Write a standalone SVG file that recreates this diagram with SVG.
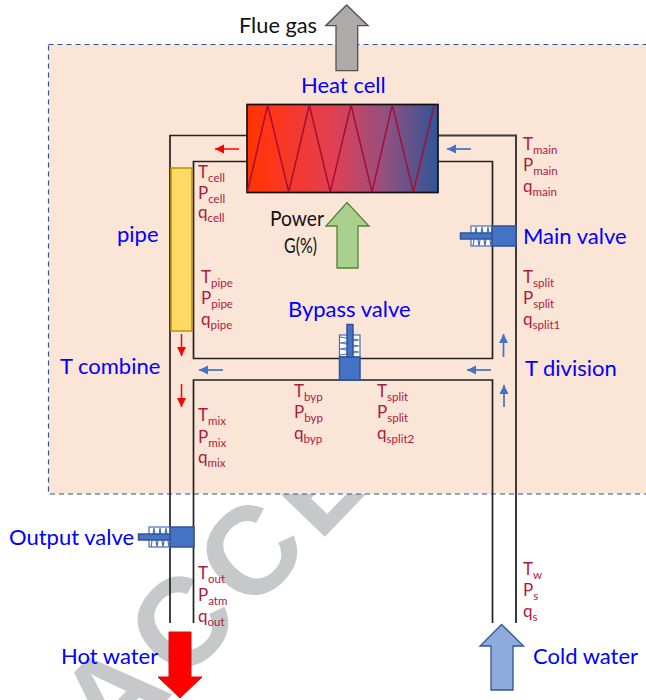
<svg xmlns="http://www.w3.org/2000/svg" width="646" height="700" viewBox="0 0 646 700">
<style>
text{font-family:"Lato","Open Sans","Liberation Sans",sans-serif}
.b{font-size:22px;fill:#0000ff}
.k{font-size:21px;fill:#111}
.r{font-size:17px;fill:#ab1a3f}
.r tspan{font-size:11.500px}
.p{fill:none;stroke:#222;stroke-width:1.700}
.vb{fill:#4472c4;stroke:#2f5597;stroke-width:1.500}
.vs{fill:#fff;stroke:#4a6fb5;stroke-width:1.200}
.vz{fill:none;stroke:#4a6fb5;stroke-width:1.200}
.ar{fill:none;stroke:#ff0000;stroke-width:1.500}
.ab{fill:none;stroke:#4472c4;stroke-width:1.700}
</style>
<defs>
<marker id="mr" markerUnits="userSpaceOnUse" markerWidth="10" markerHeight="10" refX="9" refY="5" orient="auto"><path d="M0 .5L9 5L0 9.500z" fill="#ff0000"/></marker>
<marker id="mb" markerUnits="userSpaceOnUse" markerWidth="10" markerHeight="10" refX="9" refY="5" orient="auto"><path d="M0 .5L9 5L0 9.500z" fill="#4472c4"/></marker>
<linearGradient id="hc" x1="0" y1="0" x2="1" y2="0"><stop offset="0" stop-color="#ff3300"/><stop offset=".12" stop-color="#ff3516"/><stop offset=".45" stop-color="#e23f54"/><stop offset=".72" stop-color="#94507f"/><stop offset="1" stop-color="#2f5597"/></linearGradient>
</defs>
<text transform="translate(112 757) rotate(-46)" font-size="125" font-weight="700" letter-spacing="9" style="font-family:'Liberation Sans',sans-serif;fill:#c7c8ca">ACCE</text>
<rect id="panel" x="48.500" y="44.500" width="620" height="449.500" fill="#fbe5d6" stroke="#2f5597" stroke-width="1.200" stroke-dasharray="5 4"/>
<g id="connectors">
<path class="p" d="M247 135.500H170V623"/>
<path class="p" d="M247 161.500H193.500V358.500H492.500V161.500H437"/>
<path class="p" d="M193.500 623V380H492.500V623"/>
<path class="p" style="stroke:#3a3a3a;stroke-width:2" d="M437 135.500H516V623"/>
<path class="ar" marker-end="url(#mr)" d="M239 149H215"/>
<path class="ab" marker-end="url(#mb)" d="M471 149H447"/>
<path class="ar" marker-end="url(#mr)" d="M181.500 334V356"/>
<path class="ar" marker-end="url(#mr)" d="M181.500 384V407"/>
<path class="ab" marker-end="url(#mb)" d="M223 370H199"/>
<path class="ab" marker-end="url(#mb)" d="M491 370H467"/>
<path class="ab" marker-end="url(#mb)" d="M503.500 357V334"/>
<path class="ab" marker-end="url(#mb)" d="M504 407V385"/>
</g>
<g id="heat-cell">
<rect x="247" y="104.500" width="191" height="88" fill="url(#hc)" stroke="#111" stroke-width="1.700"/>
<path d="M247.300 192L267.700 105L288.700 192L309.300 105L330.300 192L351 105L372 192L392.300 105L413.300 192L434.300 105" fill="none" stroke="#a50f35" stroke-width="1.500"/>
<text class="b" x="301" y="93">Heat cell</text>
</g>
<g id="pipe">
<rect x="171" y="168" width="21" height="163" fill="#ffd966" stroke="#bf9000" stroke-width="1.500"/>
<text class="b" x="117" y="242">pipe</text>
</g>
<g id="main-valve">
<rect class="vs" x="471" y="226" width="21" height="20"/>
<path class="vz" d="M473 246L476 227L479 246L482 227L485 246L488 227L491 246"/>
<rect class="vb" x="492" y="226" width="24" height="20"/>
<rect class="vb" x="460.500" y="233" width="31.500" height="6"/>
<text class="b" x="523" y="244">Main valve</text>
</g>
<g id="bypass-valve">
<rect class="vs" x="339.500" y="335" width="20.500" height="22"/>
<path class="vz" d="M340 337L359 340L340 343L359 346L340 349L359 352L340 355"/>
<rect class="vb" x="339.500" y="357" width="20.500" height="23"/>
<rect class="vb" x="347" y="324.500" width="6" height="32.500"/>
<text class="b" x="288" y="317">Bypass valve</text>
</g>
<g id="output-valve">
<rect class="vs" x="149" y="527" width="21" height="20"/>
<path class="vz" d="M151 547L154 528L157 547L160 528L163 547L166 528L169 547"/>
<rect class="vb" x="170" y="527" width="24" height="20"/>
<rect class="vb" x="138.500" y="534" width="31.500" height="6"/>
<text class="b" x="9" y="545">Output valve</text>
</g>
<g id="flue-gas">
<path d="M346.700 5L368 25.700H357.700V70.700H336V25.700H325.700z" fill="#aeaaaa" stroke="#525252" stroke-width="1.300"/>
<text class="k" x="239" y="33" textLength="78" lengthAdjust="spacingAndGlyphs">Flue gas</text>
</g>
<g id="power">
<path d="M347 202.500L369 226H358V268H337V226H326z" fill="#a9d18e" stroke="#548235" stroke-width="1.300"/>
<text class="k" x="270" y="226" textLength="54" lengthAdjust="spacingAndGlyphs">Power</text>
<text class="k" x="284" y="253" textLength="33" lengthAdjust="spacingAndGlyphs">G(%)</text>
</g>
<g id="hot-water">
<path d="M169 632H191V677H202L180 698L158 677H169z" fill="#ff0000" stroke="#d01010" stroke-width="1"/>
<text class="b" x="61" y="664">Hot water</text>
</g>
<g id="cold-water">
<path d="M501.600 624.500L523.500 646H513V690H491V646H480z" fill="#8faadc" stroke="#2f5597" stroke-width="1.300"/>
<text class="b" x="533" y="664">Cold water</text>
</g>
<g id="t-combine"><text class="b" x="60" y="374">T combine</text></g>
<g id="t-division"><text class="b" x="525" y="376">T division</text></g>
<g id="cell-vars">
<text class="r" x="198" y="178">T<tspan dy="4">cell</tspan></text>
<text class="r" x="198" y="199">P<tspan dy="4">cell</tspan></text>
<text class="r" x="198" y="218">q<tspan dy="4">cell</tspan></text>
</g>
<g id="pipe-vars">
<text class="r" x="201" y="283">T<tspan dy="4">pipe</tspan></text>
<text class="r" x="201" y="304">P<tspan dy="4">pipe</tspan></text>
<text class="r" x="201" y="325">q<tspan dy="4">pipe</tspan></text>
</g>
<g id="mix-vars">
<text class="r" x="198" y="421">T<tspan dy="4">mix</tspan></text>
<text class="r" x="198" y="443">P<tspan dy="4">mix</tspan></text>
<text class="r" x="198" y="463">q<tspan dy="4">mix</tspan></text>
</g>
<g id="byp-vars">
<text class="r" x="294" y="397">T<tspan dy="4">byp</tspan></text>
<text class="r" x="294" y="418">P<tspan dy="4">byp</tspan></text>
<text class="r" x="294" y="439">q<tspan dy="4">byp</tspan></text>
</g>
<g id="split2-vars">
<text class="r" x="377" y="397">T<tspan dy="4">split</tspan></text>
<text class="r" x="377" y="418">P<tspan dy="4">split</tspan></text>
<text class="r" x="377" y="439">q<tspan dy="4">split2</tspan></text>
</g>
<g id="main-vars">
<text class="r" x="523" y="150">T<tspan dy="4">main</tspan></text>
<text class="r" x="523" y="171">P<tspan dy="4">main</tspan></text>
<text class="r" x="523" y="192">q<tspan dy="4">main</tspan></text>
</g>
<g id="split1-vars">
<text class="r" x="523" y="283">T<tspan dy="4">split</tspan></text>
<text class="r" x="523" y="304">P<tspan dy="4">split</tspan></text>
<text class="r" x="523" y="325">q<tspan dy="4">split1</tspan></text>
</g>
<g id="out-vars">
<text class="r" x="198" y="579">T<tspan dy="4">out</tspan></text>
<text class="r" x="198" y="601">P<tspan dy="4">atm</tspan></text>
<text class="r" x="198" y="622">q<tspan dy="4">out</tspan></text>
</g>
<g id="in-vars">
<text class="r" x="523" y="575">T<tspan dy="4">w</tspan></text>
<text class="r" x="523" y="596">P<tspan dy="4">s</tspan></text>
<text class="r" x="523" y="617">q<tspan dy="4">s</tspan></text>
</g>
</svg>
